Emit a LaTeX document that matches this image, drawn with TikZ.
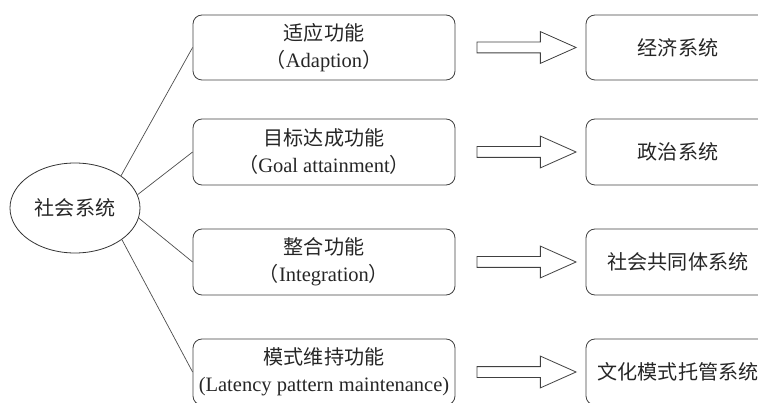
\documentclass[tikz,border=0pt]{standalone}
\usepackage{fontspec}
\setmainfont{Liberation Serif}
\newfontfamily\cjk{Noto Sans CJK SC}[Scale=0.98]
\usetikzlibrary{shapes.geometric,shapes.arrows}

\tikzset{
  func/.style={draw=black!75, rounded corners=9pt, minimum width=262pt, minimum height=66pt, align=center, inner sep=0pt},
  sys/.style={draw=black!75, rounded corners=9pt, minimum width=184pt, minimum height=66pt, inner sep=0pt},
  link/.style={draw=black!70, line width=0.7pt},
  bigarrow/.style={single arrow, draw=black!75, minimum height=99pt, minimum width=31pt, single arrow head extend=10.5pt, single arrow tip angle=48, inner xsep=0pt, inner ysep=5pt}
}

\begin{document}
\begin{tikzpicture}[x=1pt, y=1pt, font=\fontsize{20.5}{27}\selectfont, text=black!85, line width=0.8pt]
        \clip (0,0) rectangle (758,402);

        % 社会系统
        \node[draw=black!80, ellipse, minimum width=130pt, minimum height=90pt, inner sep=0pt] (soc) at (75,194) {\cjk 社会系统};

        % 四种功能
        \node[func, minimum height=65pt] (f1) at (324,354.5) {\cjk 适应功能\\{\cjk （}Adaption{\cjk ）}};
        \node[func] (f2) at (324,250) {\cjk 目标达成功能\\{\cjk （}Goal attainment{\cjk ）}};
        \node[func] (f3) at (324,140) {\cjk 整合功能\\{\cjk （}Integration{\cjk ）}};
        \node[func] (f4) at (324,30) {\cjk 模式维持功能\\(Latency pattern maintenance)};

        % 对应的子系统
        \node[sys, minimum height=65pt] (s1) at (678,354.5) {\cjk 经济系统};
        \node[sys] (s2) at (678,250) {\cjk 政治系统};
        \node[sys] (s3) at (678,140) {\cjk 社会共同体系统};
        \node[sys] (s4) at (678,30) {\cjk 文化模式托管系统\hspace{12pt}};

        % 连线
        \draw[link] (soc.35) -- (f1.west);
        \draw[link] (soc.12) -- (f2.west);
        \draw[link] (soc.-9) -- (f3.west);
        \draw[link] (soc.-34) -- (f4.west);

        % 空心箭头
        \path (f1.east) -- (s1.west) node[bigarrow, midway] (a1) {};
        \path (f2.east) -- (s2.west) node[bigarrow, midway] (a2) {};
        \path (f3.east) -- (s3.west) node[bigarrow, midway] (a3) {};
        \path (f4.east) -- (s4.west) node[bigarrow, midway] (a4) {};
\end{tikzpicture}
\end{document}
